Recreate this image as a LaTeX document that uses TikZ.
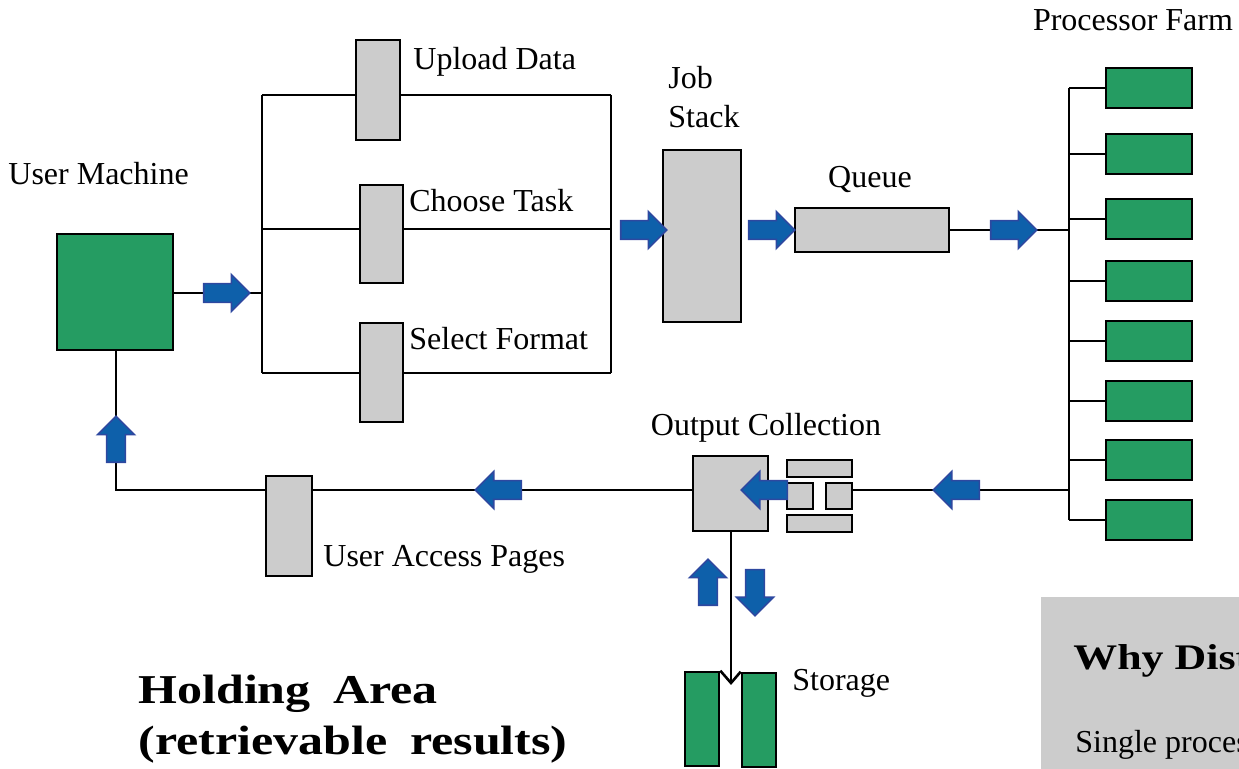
\documentclass[tikz,border=0pt]{standalone}
\usepackage{fontspec}
\setmainfont{Liberation Serif}
\newfontfamily\headfont[FakeStretch=1.22]{Liberation Serif}
\newcommand\holdfont{\headfont\bfseries\fontsize{20.5}{25.5}\selectfont\spaceskip=0.55em\relax}
\usetikzlibrary{shapes.arrows}
\definecolor{farmgreen}{RGB}{37,156,98}
\definecolor{boxgray}{RGB}{204,204,204}
\definecolor{flowblue}{RGB}{14,96,170}
\definecolor{flowedge}{RGB}{46,72,160}

\begin{document}
\begin{tikzpicture}[x=0.5pt, y=-0.5pt,
      wire/.style={line width=1pt},
      graybox/.style={draw, fill=boxgray, line width=1.3pt, inner sep=0pt},
      greenbox/.style={draw, fill=farmgreen, line width=1.3pt, inner sep=0pt},
      flow/.style={single arrow, fill=flowblue, draw=flowedge, line width=0.8pt,
        minimum height=23pt, single arrow head extend=4.5pt, inner sep=4.3pt},
      lbl/.style={font=\fontsize{16}{19.5}\selectfont, inner sep=0pt},
      headline/.style={anchor=west, align=left, inner sep=0pt}
      ]
      \useasboundingbox (0,0) rectangle (1239,769);
      \clip (0,0) rectangle (1239,769);

      % user side
      \node[greenbox, minimum width=58pt, minimum height=58pt] (usr) at (115,292) {};
      \node[lbl, anchor=west] (usrlbl) at (8,174) {User Machine};

      \node[graybox, minimum width=22pt, minimum height=50pt] (upl) at (378,90) {};
      \node[graybox, minimum width=21.5pt, minimum height=49pt] (cho) at (381.5,234) {};
      \node[graybox, minimum width=21.5pt, minimum height=49.5pt] (sel) at (381.5,372.5) {};
      \node[lbl, anchor=west] (upllbl) at (413,62) {Upload Data};
      \node[lbl, anchor=west] (cholbl) at (409,201) {Choose Task};
      \node[lbl, anchor=west] (sellbl) at (409,339) {Select Format};

      % bus round the three forms
      \coordinate (lt) at (262,95);
      \coordinate (lm) at (262,229);
      \coordinate (lu) at (262,293);
      \coordinate (lb) at (262,373);
      \coordinate (rt) at (611,95);
      \coordinate (rm) at (611,229);
      \coordinate (rb) at (611,373);
      \draw[wire] (lt) -- (lb);
      \draw[wire] (rt) -- (rb);
      \draw[wire] (lt) -- (lt -| upl.west);
      \draw[wire] (lt -| upl.east) -- (rt);
      \draw[wire] (lm) -- (lm -| cho.west);
      \draw[wire] (lm -| cho.east) -- (rm);
      \draw[wire] (lb) -- (lb -| sel.west);
      \draw[wire] (lb -| sel.east) -- (rb);
      \draw[wire] (usr.east |- lu) -- (lu);

      % job stack and queue
      \node[graybox, minimum width=39pt, minimum height=86pt] (job) at (702,236) {};
      \node[lbl, anchor=west, align=left] (joblbl) at (668,97.5) {Job\\Stack};
      \node[graybox, minimum width=77pt, minimum height=22pt] (que) at (872,230) {};
      \node[lbl] (quelbl) at (870,180) {Queue};

      % processor farm
      \node[lbl] (farmlbl) at (1133,20) {Processor Farm};
      \coordinate (fb) at (1069,230);
      \foreach \i/\y in {1/88,2/154,3/219,4/281,5/341,6/401,7/460,8/520}{
        \node[greenbox, minimum width=43pt, minimum height=20pt] (p\i) at (1149,\y) {};
        \draw[wire] (fb |- p\i) -- (p\i.west);
      }
      \draw[wire] (fb |- p1) -- (fb |- p8);
      \draw[wire] (que.east) -- (fb);

      % output collection
      \node[graybox, minimum width=37.5pt, minimum height=37.5pt] (out) at (730.5,493.5) {};
      \node[graybox, minimum width=32.5pt, minimum height=8.5pt] (bar1) at (819.5,468.5) {};
      \node[graybox, minimum width=32.5pt, minimum height=8.5pt] (bar2) at (819.5,523.5) {};
      \node[graybox, minimum width=13pt, minimum height=13pt] (sq1) at (800,496) {};
      \node[graybox, minimum width=13pt, minimum height=13pt] (sq2) at (839,496) {};
      \node[lbl] (outlbl) at (766,428) {Output Collection};
      \coordinate (fo) at (1069,490);
      \draw[wire] (fo) -- (sq2.east |- fo);

      % way back to the user
      \node[graybox, minimum width=23pt, minimum height=50pt] (uap) at (289,526) {};
      \node[lbl, anchor=west] (uaplbl) at (323,559) {User Access Pages};
      \coordinate (ua) at (116,490);
      \draw[wire] (out.west |- fo) -- (uap.east |- fo);
      \draw[wire] (uap.west |- fo) -- (ua) -- (ua |- usr.south);

      % storage
      \node[greenbox, minimum width=17pt, minimum height=47pt] (stl) at (702,719) {};
      \node[greenbox, minimum width=17pt, minimum height=47pt] (str) at (759,720) {};
      \coordinate (notch) at (731,683);
      \draw[wire] (out.south -| notch) -- (notch);
      \draw[line width=1.3pt] (stl.north east) -- (notch) -- (str.north west);
      \node[lbl, anchor=west] (storlbl) at (792,683) {Storage};

      \node[headline, font=\holdfont] (hold) at (138,719) {Holding Area\\(retrievable results)};

      % side panel
      \fill[boxgray] (1041,597) rectangle (1239,769);
      \node[headline, font=\headfont\bfseries\fontsize{18}{20}\selectfont] (why) at (1073,661) {Why Dist};
      \node[lbl, anchor=west] (single) at (1075,745) {Single proces};

      % data flow arrows
      \node[flow] (a1) at (222,293) {};
      \node[flow] (a2) at (639,230) {};
      \node[flow] (a3) at (767,230) {};
      \node[flow] (a4) at (1009,230) {};
      \node[flow, shape border rotate=180] (a5) at (961,490) {};
      \node[flow, shape border rotate=180] (a6) at (769,490) {};
      \node[flow, shape border rotate=180] (a7) at (503,490) {};
      \node[flow, shape border rotate=90] (a8) at (116,444) {};
      \node[flow, shape border rotate=90] (a9) at (708,587) {};
      \node[flow, shape border rotate=270] (a10) at (755,588) {};
\end{tikzpicture}
\end{document}
